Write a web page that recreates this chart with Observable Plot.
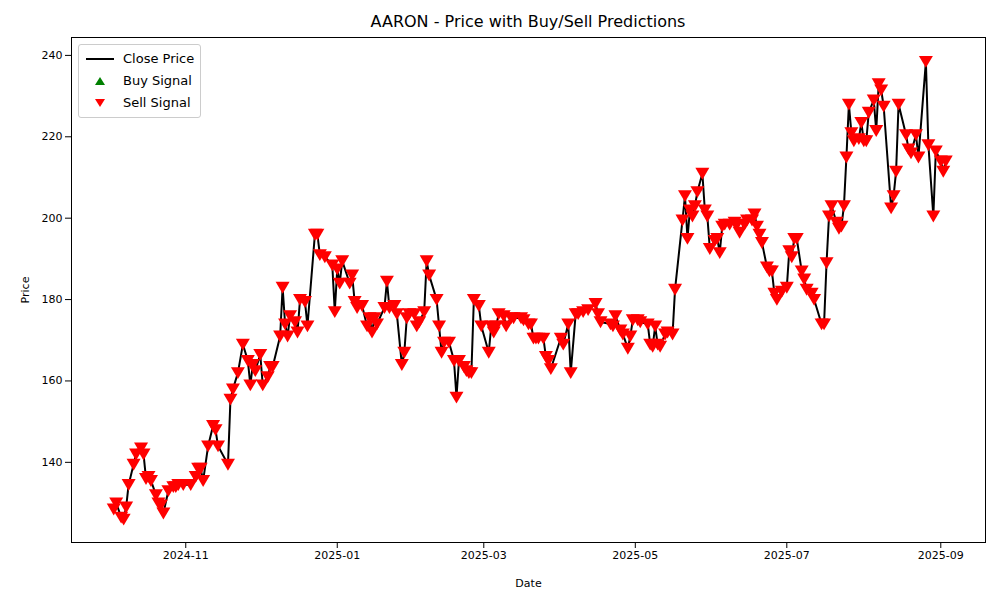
<!DOCTYPE html>
<html>
<head>
<meta charset="utf-8">
<script src="https://cdn.jsdelivr.net/npm/d3@7"></script>
<script src="https://cdn.jsdelivr.net/npm/@observablehq/plot@0.6"></script>
<style>
  body { margin: 0; background: #fff; font-family: "DejaVu Sans", sans-serif; }
  #wrap { position: relative; width: 1000px; height: 600px; }
  #title { position: absolute; top: 12px; left: 71px; width: 914px; text-align: center; font-size: 16px; }
  #legend { position: absolute; left: 78px; top: 44px; border: 1px solid #ccc; border-radius: 3px; background: rgba(255,255,255,0.8); padding: 3px 6px; font-size: 13px; line-height: 22px; }
  #legend div { display: flex; align-items: center; }
  #legend svg { margin-right: 8px; }
</style>
</head>
<body>
<div id="wrap">
  <div id="chart"></div>
  <div id="title">AARON - Price with Buy/Sell Predictions</div>
  <div id="legend">
    <div><svg width="30" height="10"><line x1="1" y1="5" x2="29" y2="5" stroke="black" stroke-width="2"/></svg>Close Price</div>
    <div><svg width="30" height="10"><path d="M15,1 L20,9 L10,9 Z" fill="green"/></svg>Buy Signal</div>
    <div><svg width="30" height="10"><path d="M10,1 L20,1 L15,9 Z" fill="red"/></svg>Sell Signal</div>
  </div>
</div>
<script>
// days since 2024-10-01 and close prices
const startDate = new Date(Date.UTC(2024, 9, 1));
const days = [2,3,5,6,7,8,10,11,13,14,15,16,17,19,20,21,22,24,26,27,28,30,33,35,36,37,38,40,42,43,44,48,49,50,52,54,56,57,58,59,61,62,64,65,66,69,70,71,72,73,75,76,77,79,80,83,84,85,87,90,91,92,93,94,97,98,99,100,102,104,105,106,107,108,111,112,113,115,116,118,119,120,121,123,124,125,127,128,129,132,133,134,135,137,139,140,141,143,144,145,146,147,149,150,153,154,155,156,157,159,160,162,163,166,167,169,170,171,172,173,175,176,177,178,182,183,185,186,188,189,191,193,196,197,198,202,203,204,206,207,209,210,211,213,214,217,218,219,220,221,222,224,225,227,228,231,232,233,234,235,236,237,239,240,241,242,244,245,246,247,248,250,252,253,254,256,257,259,260,261,262,263,265,266,267,268,269,271,273,274,275,276,277,279,280,281,283,284,287,288,289,290,291,293,294,295,296,297,298,299,300,302,303,304,305,306,308,309,310,311,312,315,316,317,318,321,322,323,325,326,329,330,332,333,335,336,337];
const prices = [128.5,130,126.5,126,129,134.5,139.5,142,143.5,142,136,136.5,135.5,132,130,129.5,127.5,133,134,134,134.5,134.5,134.5,136.5,138.5,138.5,135.5,144,149,148,144,139.5,155.5,158,162,169,165,159,164,162.5,166.5,159,161,163.5,163.5,171,183,174,171,176,174.5,172,180,179.5,173.5,196,196,191,190.5,188.5,177,187.5,184,189.5,184,186,179.5,178,178.5,173.5,175.5,172,175.5,174,178,184.5,178,178.5,176.5,164,167,175.5,176.5,176.5,173.5,174.5,177,189.5,186,180,173.5,167,169.5,169.5,165,156,165,163.5,162.5,162,162,180,178.5,173.5,167,173.5,172,173.5,176.5,176,173.5,175.5,175.5,175.5,175,174,174,170.5,170.5,170.5,170.5,166,165,163,170.5,169,174,162,176.5,176.5,177,177.5,179,176.5,174.5,174,173.5,176,172.5,171.5,168,171,175,175,174.5,174,169,168.5,173.5,169,168.5,171.5,172,171.5,182.5,199.5,205.5,195,202,200.5,203,206.5,211,202,200.5,192.5,194.5,195,191.5,198,198.5,198.5,199,198.5,196.5,198.5,199.5,199.5,201,198,196,194,188,187,187,181.5,180,182,183,192,190.5,195,195,187,185,182.5,181.5,180,174,174,189,200.5,203,199,197.5,198,203,215,228,221,219,219.5,223.5,219,219,226,229,221.5,233,231.5,227.5,202.5,205.5,211.5,228,220.5,217,216,220.5,215,238.5,218,200.5,216.5,214,211.5,214];
const xTicks = ["2024-11-01","2025-01-01","2025-03-01","2025-05-01","2025-07-01","2025-09-01"];
const yTicks = [140,160,180,200,220,240];

const rows = days.map((d, i) => ({ date: d3.utcDay.offset(startDate, d), close: prices[i] }));

const triangleDown = {
  draw(context, size) {
    const r = Math.sqrt(size / 1.3);
    context.moveTo(-r, -r * 0.8);
    context.lineTo(r, -r * 0.8);
    context.lineTo(0, r * 0.9);
    context.closePath();
  }
};

const chart = Plot.plot({
  width: 1000,
  height: 600,
  marginLeft: 71,
  marginRight: 15,
  marginTop: 37,
  marginBottom: 58,
  style: { fontFamily: "DejaVu Sans", fontSize: "11px", color: "black" },
  x: {
    type: "utc",
    domain: [new Date("2024-09-16"), new Date("2025-09-19")],
    ticks: xTicks.map((t) => new Date(t)),
    tickFormat: d3.utcFormat("%Y-%m"),
    label: "Date",
    labelAnchor: "center",
    labelArrow: "none",
    labelOffset: 44
  },
  y: {
    domain: [120.3, 244.4],
    ticks: yTicks,
    label: "Price",
    labelAnchor: "center",
    labelArrow: "none",
    labelOffset: 50
  },
  marks: [
    Plot.frame({ stroke: "black" }),
    Plot.line(rows, { x: "date", y: "close", stroke: "black", strokeWidth: 2 }),
    Plot.dot(rows, { x: "date", y: "close", symbol: triangleDown, fill: "red", r: 4.5 })
  ]
});
document.getElementById("chart").appendChild(chart);
</script>
</body>
</html>
